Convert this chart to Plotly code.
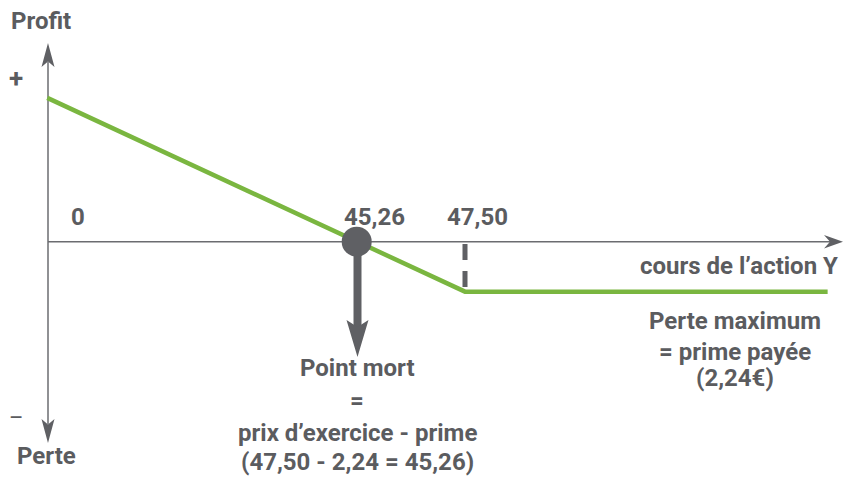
import plotly.graph_objects as go

# ---- data ----
strike = 47.50
premium = 2.24
breakeven = 45.26
payoff_x = [38.86, 47.50, 55.0]
payoff_y = [6.45, -2.24, -2.24]

W, H = 845, 479
# pixel mapping (layout only)
X0_PX, X0_VAL, X_PPU = 356.7, breakeven, 48.35
Y0_PX, Y_PPU = 241.7, 22.3
x_range = [X0_VAL - X0_PX / X_PPU, X0_VAL + (W - X0_PX) / X_PPU]
y_range = [-(H - Y0_PX) / Y_PPU, Y0_PX / Y_PPU]

GREY = "#5f6064"
AXIS = "#6b6c70"
TXT = "#5b5c5f"
GREEN = "#7ab640"
FONT = "Roboto"


def px(x):
    return x / W


def py(y):
    return 1 - y / H


def path(points):
    return "M " + " L ".join(f"{px(a):.5f},{py(b):.5f}" for a, b in points) + " Z"


fig = go.Figure()
fig.add_trace(go.Scatter(x=payoff_x, y=payoff_y, mode="lines",
                         line=dict(color=GREEN, width=4.5), hoverinfo="skip"))
fig.add_trace(go.Scatter(x=[breakeven], y=[0], mode="markers",
                         marker=dict(color=GREY, size=30, line=dict(width=0)),
                         hoverinfo="skip"))

shapes = []
# vertical axis
shapes.append(dict(type="line", xref="paper", yref="paper", x0=px(48), x1=px(48),
                   y0=py(62), y1=py(424), line=dict(color=AXIS, width=1.5), layer="below"))
shapes.append(dict(type="path", xref="paper", yref="paper",
                   path=path([(48, 43), (41.5, 67), (48, 61.5), (54.5, 67)]),
                   fillcolor=GREY, line=dict(width=0), layer="below"))
shapes.append(dict(type="path", xref="paper", yref="paper",
                   path=path([(48, 443), (41.5, 419), (48, 424.5), (54.5, 419)]),
                   fillcolor=GREY, line=dict(width=0), layer="below"))
# horizontal axis
shapes.append(dict(type="line", xref="paper", yref="paper", x0=px(48), x1=px(831),
                   y0=py(Y0_PX), y1=py(Y0_PX), line=dict(color=AXIS, width=1.5), layer="below"))
shapes.append(dict(type="path", xref="paper", yref="paper",
                   path=path([(843, Y0_PX), (824, 235), (830, Y0_PX), (824, 248.5)]),
                   fillcolor=GREY, line=dict(width=0), layer="below"))
# strike dashed marker
shapes.append(dict(type="line", xref="x", yref="y", x0=strike, x1=strike,
                   y0=-0.1, y1=-2.05, line=dict(color=GREY, width=5, dash="16px,11px"),
                   layer="below"))
# break-even arrow
shapes.append(dict(type="line", xref="paper", yref="paper", x0=px(357.5), x1=px(357.5),
                   y0=py(250), y1=py(328), line=dict(color=GREY, width=8), layer="below"))
shapes.append(dict(type="path", xref="paper", yref="paper",
                   path=path([(357.5, 357), (346.5, 320), (357.5, 327), (368.5, 320)]),
                   fillcolor=GREY, line=dict(width=0), layer="below"))


def label(text, x, y, size=24, xanchor="center", weight="bold"):
    return dict(text=text, x=px(x), y=py(y), xref="paper", yref="paper",
                showarrow=False, xanchor=xanchor, yanchor="middle",
                font=dict(family=FONT, size=size, color=TXT, weight=weight))


annotations = [
    label("Profit", 41, 21),
    label("+", 16, 78, size=26),
    label("–", 16, 417, size=22, weight="normal"),
    label("Perte", 46, 456),
    label("0", 78, 217),
    label("45,26", 374, 217),
    label("47,50", 477, 217),
    label("cours de l’action Y", 840, 266, xanchor="right"),
    label("Perte maximum", 735, 321),
    label("= prime payée", 735, 352),
    label("(2,24€)", 735, 378),
    label("Point mort", 357, 368),
    label("=", 357, 401),
    label("prix d’exercice - prime", 357, 433),
    label("(47,50 - 2,24 = 45,26)", 357, 462),
]

fig.update_layout(
    width=W, height=H,
    margin=dict(l=0, r=0, t=0, b=0),
    paper_bgcolor="white", plot_bgcolor="white",
    showlegend=False,
    xaxis=dict(range=x_range, visible=False, fixedrange=True),
    yaxis=dict(range=y_range, visible=False, fixedrange=True),
    shapes=shapes,
    annotations=annotations,
)

fig.write_html("out.html")
